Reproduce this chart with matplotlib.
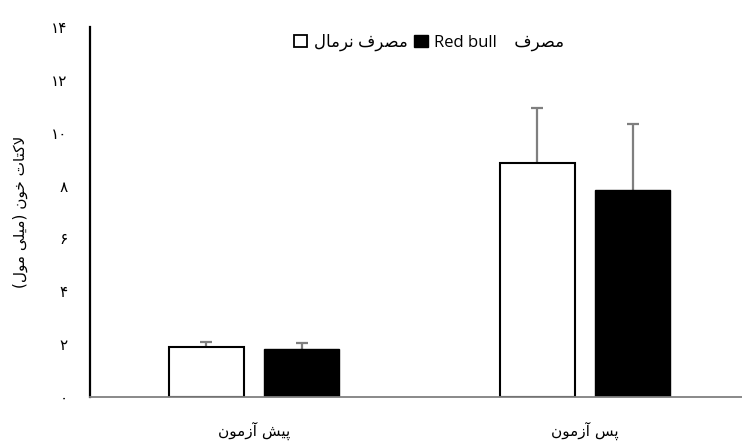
import numpy as np
import matplotlib
matplotlib.use("Agg")
import matplotlib.pyplot as plt
from matplotlib.patches import Patch

# Persian text written in visual order with presentation forms (no shaping engine)
cat_labels = [
    "\uFEE5\uFEEE\uFEE3\uFEAF\uFE81 \uFEB6\uFBFF\uFB58",  # pre-test
    "\uFEE5\uFEEE\uFEE3\uFEAF\uFE81 \uFEB2\uFB58",        # post-test
]
series_names = [
    "\uFEDD\uFE8E\uFEE3\uFEAE\uFEE7 \uFED1\uFEAE\uFEBC\uFEE3",  # normal
    "Red bull    \uFED1\uFEAE\uFEBC\uFEE3",                      # Red bull
]
ylabel = ("(\uFEDD\uFEEE\uFEE3 \uFBFD\uFEE0\uFBFF\uFEE3) "
          "\uFEE5\uFEEE\uFEA7 \uFE95\uFE8E\uFE98\uFB90\uFEFB")

normal_vals = [1.90, 8.87]
normal_err = [0.18, 2.06]
redbull_vals = [1.83, 7.82]
redbull_err = [0.21, 2.50]

yticks = [0, 2, 4, 6, 8, 10, 12, 14]
fa_digits = str.maketrans("0123456789", "\u06F0\u06F1\u06F2\u06F3\u06F4\u06F5\u06F6\u06F7\u06F8\u06F9")
ytick_labels = [str(t).translate(fa_digits) for t in yticks]

fig = plt.figure(figsize=(7.42, 4.45), dpi=100)
ax = fig.add_axes([90 / 742, 1 - 397 / 445, 1 - 90 / 742, 370 / 445])

x = np.arange(len(cat_labels))
w = 0.227
off = 0.144
err_kw = dict(ecolor="#7f7f7f", elinewidth=1.6, capsize=4.3, capthick=1.6, zorder=1)

b1 = ax.bar(x - off, normal_vals, w, color="white", edgecolor="black", linewidth=1.5,
            yerr=[np.zeros(2), normal_err], error_kw=err_kw, zorder=2)
b2 = ax.bar(x + off, redbull_vals, w, color="black", edgecolor="black", linewidth=1.0,
            yerr=[np.zeros(2), redbull_err], error_kw=err_kw, zorder=2)
# only the upper cap is wanted
for b in (b1, b2):
    caps = b.errorbar.lines[1]
    caps[0].set_visible(False)

ax.set_xlim(-0.495, 1.474)
ax.set_ylim(0, 14)
ax.set_yticks(yticks)
ax.set_yticklabels(ytick_labels, fontsize=11, family="DejaVu Sans")
ax.set_xticks(x)
ax.set_xticklabels(cat_labels, fontsize=11, family="DejaVu Sans")
ax.tick_params(axis="y", length=0, pad=16)
ax.tick_params(axis="x", length=0, pad=18)

for s in ["top", "right"]:
    ax.spines[s].set_visible(False)
ax.spines["left"].set_color("black")
ax.spines["left"].set_linewidth(1.6)
ax.spines["bottom"].set_color("#808080")
ax.spines["bottom"].set_linewidth(1.3)

ax.set_ylabel(ylabel, fontsize=11, family="DejaVu Sans", labelpad=17)

handles = [Patch(facecolor="white", edgecolor="black", linewidth=1.3),
           Patch(facecolor="black", edgecolor="black")]
ax.legend(handles, series_names, ncol=2, loc="center", bbox_to_anchor=(0.52, 0.958),
          frameon=False, prop={"family": ["Open Sans", "DejaVu Sans"], "size": 12},
          handlelength=0.8, handleheight=0.8, handletextpad=0.4, columnspacing=0.4)

fig.savefig("out.png", dpi=100)
